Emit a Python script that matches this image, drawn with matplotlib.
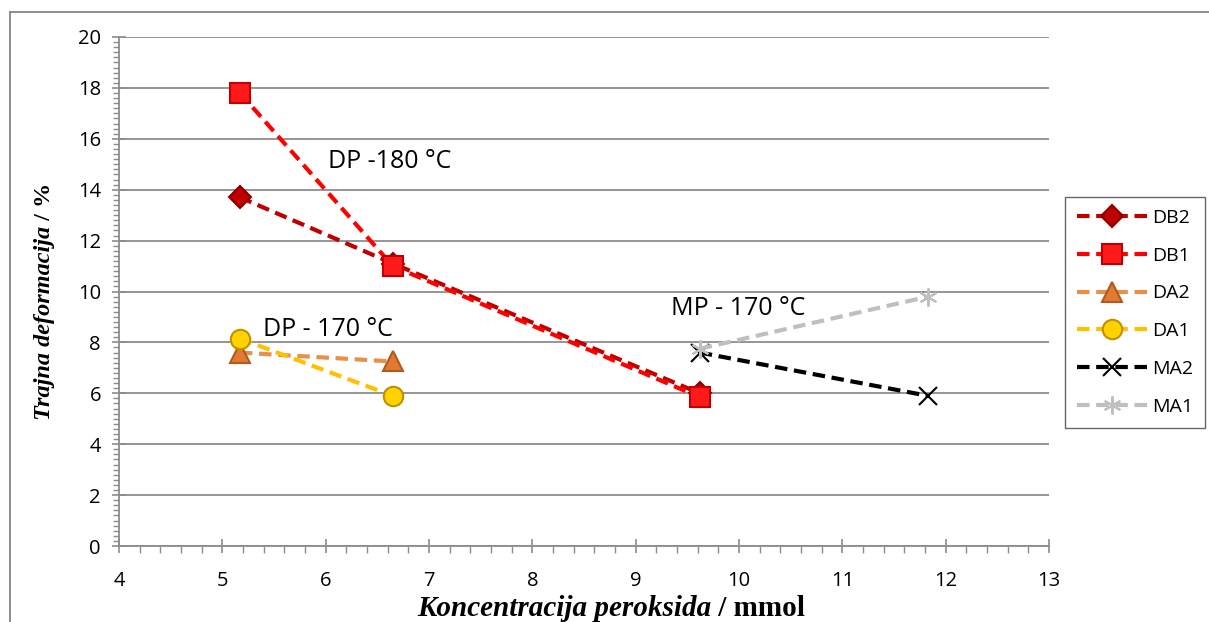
import matplotlib
matplotlib.use("Agg")
import matplotlib.pyplot as plt
from matplotlib.lines import Line2D
from matplotlib.ticker import MultipleLocator

# ---- data ----
db2_x = [5.17, 6.65, 9.62]
db2_y = [13.7, 11.1, 6.0]
db1_x = [5.17, 6.65, 9.62]
db1_y = [17.8, 11.0, 5.85]
da2_x = [5.17, 6.65]
da2_y = [7.6, 7.25]
da1_x = [5.17, 6.65]
da1_y = [8.15, 5.9]
ma2_x = [9.62, 11.83]
ma2_y = [7.6, 5.9]
ma1_x = [9.62, 11.83]
ma1_y = [7.75, 9.8]

series_names = ["DB2", "DB1", "DA2", "DA1", "MA2", "MA1"]
x_ticks = [4, 5, 6, 7, 8, 9, 10, 11, 12, 13]
y_ticks = [0, 2, 4, 6, 8, 10, 12, 14, 16, 18, 20]

W, H = 1209, 622
fig = plt.figure(figsize=(W / 100, H / 100), dpi=100)
ax = fig.add_axes([119 / W, 1 - 546 / H, (1049 - 119) / W, (546 - 37) / H])

# outer chart border
fig.add_artist(Line2D([10 / W, 10 / W], [0, 1 - 12 / H], color="#868686", lw=1.3, transform=fig.transFigure))
fig.add_artist(Line2D([10 / W, 1], [1 - 12 / H, 1 - 12 / H], color="#868686", lw=1.3, transform=fig.transFigure))

styles = [
    dict(color="#C00000", marker="D", ms=11, mfc="#C00000", mec="#8B0000"),
    dict(color="#FF0000", marker="s", ms=14, mfc="#FF1A1A", mec="#C00000"),
    dict(color="#E8904A", marker="^", ms=15, mfc="#E07A30", mec="#B05A20"),
    dict(color="#FFC000", marker="o", ms=14, mfc="#FFD200", mec="#C09000"),
    dict(color="#000000", marker="x", ms=13, mfc="none", mec="#000000"),
    dict(color="#BFBFBF", marker=(6, 2, 0), ms=13, mfc="none", mec="#BFBFBF"),
]
data = [(db2_x, db2_y), (db1_x, db1_y), (da2_x, da2_y), (da1_x, da1_y), (ma2_x, ma2_y), (ma1_x, ma1_y)]

for (xs, ys), st, name in zip(data, styles, series_names):
    ax.plot(xs, ys, ls=(0, (3.0, 1.6)), lw=3.0, label=name, mew=1.5, zorder=3, **st)

ax.set_xlim(4, 13)
ax.set_ylim(0, 20)
ax.set_xticks(x_ticks)
ax.set_yticks(y_ticks)
ax.xaxis.set_minor_locator(MultipleLocator(0.2))
ax.yaxis.set_minor_locator(MultipleLocator(0.2))
ax.grid(axis="y", which="major", color="#8C8C8C", lw=1.3, zorder=0)
for s in ["top", "right"]:
    ax.spines[s].set_visible(False)
for s in ["left", "bottom"]:
    ax.spines[s].set_color("#8C8C8C")
    ax.spines[s].set_linewidth(1.3)
ax.tick_params(axis="both", which="major", direction="inout", length=10, width=1.2, color="#8C8C8C",
               labelsize=14.5, pad=8)
ax.tick_params(axis="x", which="minor", direction="out", length=5, width=1, color="#8C8C8C")
ax.tick_params(axis="y", which="minor", direction="out", length=4, width=1, color="#8C8C8C")
ax.tick_params(axis="x", which="major", pad=13)
for lab in ax.get_xticklabels() + ax.get_yticklabels():
    lab.set_fontfamily("Open Sans")

ax.text(6.02, 15.1, "DP -180 °C", fontsize=18, family="Open Sans", va="center")
ax.text(5.39, 8.5, "DP - 170 °C", fontsize=18, family="Open Sans", va="center")
ax.text(9.34, 9.35, "MP - 170 °C", fontsize=18, family="Open Sans", va="center")

r = fig.canvas.get_renderer()

# x axis label: italic bold part + upright bold unit
t1 = fig.text(0, 1 - 608 / H, "Koncentracija peroksida", fontsize=21, family="Liberation Serif",
              fontweight="bold", style="italic", va="center")
t2 = fig.text(0, 1 - 608 / H, " / mmol", fontsize=21, family="Liberation Serif",
              fontweight="bold", va="center")
w1 = t1.get_window_extent(r).width
w2 = t2.get_window_extent(r).width
cx = 611
start = cx - (w1 + w2) / 2
t1.set_x(start / W)
t2.set_x((start + w1) / W)

# y axis label (rotated)
cy = 301
u1 = fig.text(45 / W, 0, "Trajna deformacija", fontsize=17.5, family="Liberation Serif",
              fontweight="bold", style="italic", rotation=90, ha="center", va="bottom")
u2 = fig.text(45 / W, 0, " / %", fontsize=17.5, family="Liberation Serif",
              fontweight="bold", rotation=90, ha="center", va="bottom")
h1 = u1.get_window_extent(r).height
h2 = u2.get_window_extent(r).height
ybot = (H - cy) - (h1 + h2) / 2
u1.set_y(ybot / H)
u2.set_y((ybot + h1) / H)

leg = fig.legend(loc="upper left", bbox_to_anchor=(1065 / W, 1 - 197 / H), frameon=True, fancybox=False,
                 edgecolor="#404040", handlelength=3.6, labelspacing=1.02, borderaxespad=0,
                 borderpad=0.6, handletextpad=0.3, prop={"family": "Open Sans", "size": 14})
leg.get_frame().set_linewidth(1.0)

fig.savefig("out.png", dpi=100)
